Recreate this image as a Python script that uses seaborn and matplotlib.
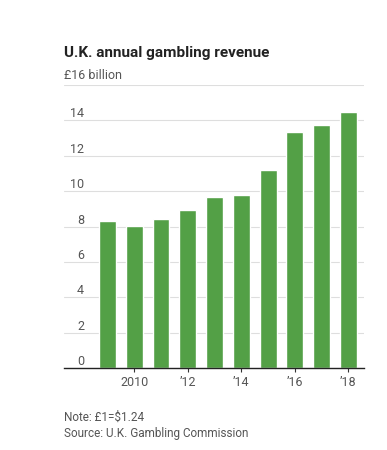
import matplotlib
matplotlib.use("Agg")
import matplotlib.pyplot as plt
import seaborn as sns

# data (GBP billions)
years = [2009, 2010, 2011, 2012, 2013, 2014, 2015, 2016, 2017, 2018]
revenue = [8.3, 8.05, 8.4, 8.95, 9.65, 9.8, 11.2, 13.35, 13.75, 14.5]
year_ticks = [1, 3, 5, 7, 9]
year_labels = ["2010", "\u201912", "\u201914", "\u201916", "\u201918"]
y_ticks = [0, 2, 4, 6, 8, 10, 12, 14, 16]

sns.set_theme(style="white")
plt.rcParams["font.family"] = ["Roboto", "DejaVu Sans"]

fig = plt.figure(figsize=(3.87, 4.5), dpi=100)
ax = fig.add_axes([0.1654, 0.1822, 0.7752, 0.6289])

sns.barplot(x=years, y=revenue, color="#53a046", saturation=1, width=0.63, ax=ax, zorder=3)

ax.set_xlim(-1.62, 9.58)
ax.set_ylim(0, 16)

# gridlines
ax.set_yticks(y_ticks)
ax.set_yticklabels([str(t) for t in y_ticks[:-1]] + [""])
ax.grid(axis="y", color="#dedede", linewidth=0.8, zorder=0)
ax.tick_params(axis="y", length=0, pad=-14.5, labelsize=9, labelcolor="#555555")
for lab in ax.get_yticklabels():
    lab.set_va("bottom")

ax.set_xticks(year_ticks)
ax.set_xticklabels(year_labels)
ax.tick_params(axis="x", length=3, width=0.8, color="#333333", pad=3,
               labelsize=9, labelcolor="#555555", bottom=True)

for s in ["top", "right", "left"]:
    ax.spines[s].set_visible(False)
ax.spines["bottom"].set_color("#222222")
ax.spines["bottom"].set_linewidth(1.0)
ax.spines["bottom"].set_zorder(4)
ax.set_xlabel("")
ax.set_ylabel("")

ax.text(0, 16.15, "\u00a316 billion", transform=ax.get_yaxis_transform(),
        ha="left", va="bottom", fontsize=9, color="#555555")

fig.text(0.1654, 0.874, "U.K. annual gambling revenue", fontsize=11,
         fontweight="bold", color="#222222", ha="left", va="baseline")
fig.text(0.1654, 0.065, "Note: \u00a31=$1.24", fontsize=8.5, color="#555555",
         ha="left", va="baseline")
fig.text(0.1654, 0.028, "Source: U.K. Gambling Commission", fontsize=8.5,
         color="#555555", ha="left", va="baseline")

fig.savefig("out.png", dpi=100)
